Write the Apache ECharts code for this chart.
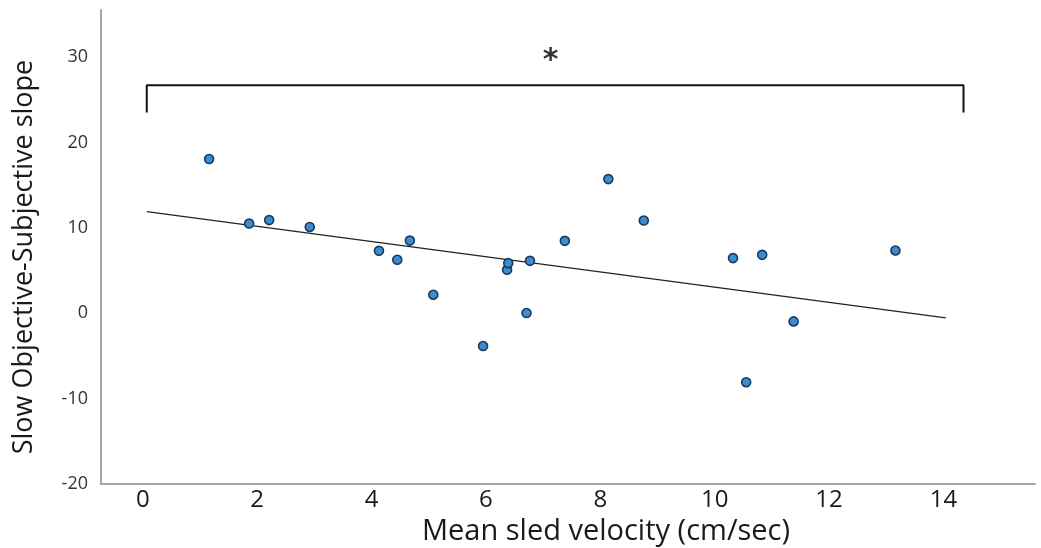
<!DOCTYPE html>
<html>
<head>
<meta charset="utf-8">
<script src="https://cdn.jsdelivr.net/npm/echarts@6/dist/echarts.min.js"></script>
<style>
html,body{margin:0;padding:0;background:#fff;}
#chart{width:1041px;height:548px;}
</style>
</head>
<body>
<div id="chart"></div>
<script>
// ---- data ----
const velocity = [1.16, 1.86, 2.21, 2.92, 4.13, 4.45, 4.67, 5.08, 5.95, 6.37, 6.39, 6.71, 6.77, 7.38, 8.14, 8.76, 10.32, 10.55, 10.83, 11.38, 13.16];
const slopeVals = [18.05, 10.5, 10.9, 10.1, 7.3, 6.25, 8.5, 2.16, -3.85, 5.08, 5.86, 0.02, 6.13, 8.47, 15.7, 10.85, 6.45, -8.08, 6.83, -0.96, 7.34];
const fitX = [0.07, 14.04];
const fitY = [11.9, -0.56];
const bracketX = [0.07, 0.07, 14.35, 14.35];
const bracketY = [23.5, 26.7, 26.7, 23.5];
const starX = [7.13];
const starY = [30.2];
const starText = '*';
const xTitle = 'Mean sled velocity (cm/sec)';
const yTitle = 'Slow Objective-Subjective slope';
const xTickValues = [0, 2, 4, 6, 8, 10, 12, 14];
const yTickValues = [-20, -10, 0, 10, 20, 30];
const xRange = [-0.73, 15.6];
const yRange = [-20, 35.5];

const points = velocity.map((v, i) => [v, slopeVals[i]]);
const fitLine = fitX.map((v, i) => [v, fitY[i]]);
const bracket = bracketX.map((v, i) => [v, bracketY[i]]);
const star = starX.map((v, i) => [v, starY[i]]);

const chart = echarts.init(document.getElementById('chart'), null, {renderer: 'canvas'});
chart.setOption({
  animation: false,
  backgroundColor: '#ffffff',
  grid: {left: 101, right: 6, top: 10, bottom: 64, containLabel: false, outerBoundsMode: 'none'},
  xAxis: {
    type: 'value',
    min: xRange[0], max: xRange[1],
    name: xTitle,
    nameLocation: 'middle',
    nameGap: 31,
    nameTextStyle: {fontFamily: 'Open Sans', fontSize: 29, color: '#1a1a1a', padding: [0, 0, 0, 76]},
    axisLine: {show: true, onZero: false, lineStyle: {color: '#a6a6a6', width: 2}},
    axisTick: {show: false},
    splitLine: {show: false},
    axisLabel: {
      fontFamily: 'Open Sans', fontSize: 24, color: '#1a1a1a', margin: 4,
      customValues: xTickValues,
      formatter: v => String(v)
    }
  },
  yAxis: {
    type: 'value',
    min: yRange[0], max: yRange[1],
    name: yTitle,
    nameLocation: 'middle',
    nameGap: 63,
    nameRotate: 90,
    nameTextStyle: {fontFamily: 'Open Sans', fontSize: 27, color: '#1a1a1a', padding: [0, 20, 0, 0]},
    axisLine: {show: true, onZero: false, lineStyle: {color: '#a6a6a6', width: 2}},
    axisTick: {show: false},
    splitLine: {show: false},
    axisLabel: {
      fontFamily: 'Open Sans', fontSize: 18, color: '#333333', margin: 13,
      customValues: yTickValues,
      formatter: v => String(v)
    }
  },
  series: [
    {
      type: 'line', data: bracket, symbol: 'none', silent: true,
      lineStyle: {color: '#111111', width: 2}, z: 2
    },
    {
      type: 'line', data: fitLine, symbol: 'none', silent: true,
      lineStyle: {color: '#222222', width: 1.3}, z: 3
    },
    {
      type: 'scatter', data: points, symbol: 'circle', symbolSize: 9,
      itemStyle: {color: '#3a8ed0', borderColor: '#1b3a5c', borderWidth: 1.6, opacity: 1},
      z: 5
    },
    {
      type: 'scatter', data: star, symbolSize: 2,
      itemStyle: {color: 'rgba(255,255,255,0)'},
      label: {show: true, position: 'inside', formatter: starText, fontFamily: 'DejaVu Sans', fontWeight: 'bold', fontSize: 30, color: '#000000', offset: [0, 6]},
      z: 6
    }
  ]
});
</script>
</body>
</html>
